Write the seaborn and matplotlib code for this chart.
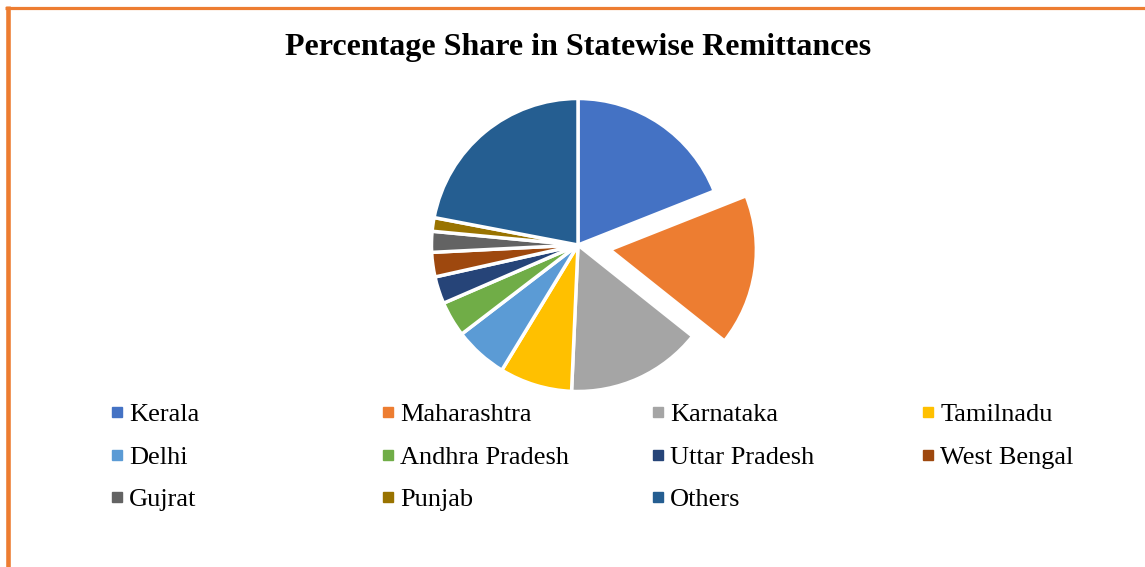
import matplotlib
matplotlib.use("Agg")
import matplotlib.pyplot as plt
import seaborn as sns
from matplotlib.lines import Line2D

states = ["Kerala", "Maharashtra", "Karnataka", "Tamilnadu", "Delhi",
          "Andhra Pradesh", "Uttar Pradesh", "West Bengal", "Gujrat", "Punjab", "Others"]
shares = [19.0, 16.7, 15.0, 8.0, 5.9, 3.9, 3.0, 2.7, 2.3, 1.5, 22.0]
colors = ["#4472C4", "#ED7D31", "#A5A5A5", "#FFC000", "#5B9BD5", "#70AD47",
          "#264478", "#9E480E", "#636363", "#997300", "#255E91"]
explode = [0, 0.22, 0, 0, 0, 0, 0, 0, 0, 0, 0]
title = "Percentage Share in Statewise Remittances"

sns.set_theme(style="white")
plt.rcParams['font.family'] = ['Liberation Serif', 'DejaVu Serif']
plt.rcParams['text.color'] = 'black'

W, H = 1145, 567
fig = plt.figure(figsize=(W / 100, H / 100), dpi=100)
fig.patch.set_facecolor("white")

cx, cy, r = 578, 245, 146.5
half = 1.25 * r
ax = fig.add_axes([(cx - half) / W, (H - cy - half) / H, 2 * half / W, 2 * half / H])
ax.pie(shares, colors=colors, explode=explode, startangle=90, counterclock=False,
       wedgeprops=dict(edgecolor="white", linewidth=2.5))

fig.text(cx / W, 1 - 48 / H, title, ha="center", va="center",
         fontsize=23, fontweight="bold", color="black")

# legend: 4 columns, row-major order
col_x = [109, 380, 650, 920]
for c in range(4):
    idx = list(range(c, len(states), 4))
    handles = [Line2D([], [], marker="s", linestyle="none", markersize=6.5,
                      markerfacecolor=colors[i], markeredgecolor=colors[i]) for i in idx]
    labels = [states[i] for i in idx]
    fig.legend(handles, labels, loc="upper left",
               bbox_to_anchor=(col_x[c] / W, 1 - 403 / H),
               frameon=False, fontsize=19, handlelength=0.6, handletextpad=0.17,
               labelspacing=0.72, borderpad=0, borderaxespad=0, labelcolor="black")

# orange border (top and left)
fig.add_artist(Line2D([5 / W, 1], [1 - 7.5 / H, 1 - 7.5 / H], transform=fig.transFigure,
                      color="#ED7D31", linewidth=2.3, solid_capstyle="butt"))
fig.add_artist(Line2D([7.8 / W, 7.8 / W], [1 - 6 / H, 0], transform=fig.transFigure,
                      color="#ED7D31", linewidth=3.3, solid_capstyle="butt"))

fig.savefig("out.png", dpi=100, facecolor="white")
